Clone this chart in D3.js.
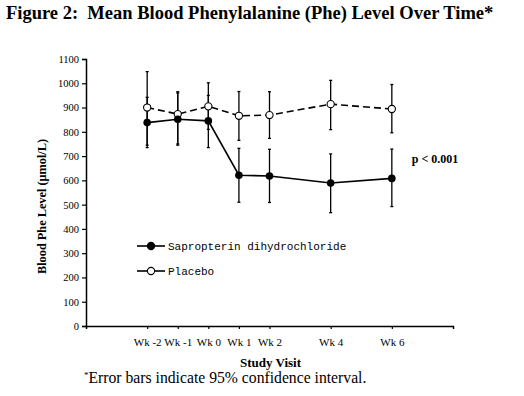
<!DOCTYPE html>
<html>
<head>
<meta charset="utf-8">
<script src="https://cdn.jsdelivr.net/npm/d3@7"></script>
<style>
  body { margin: 0; background: #fff; }
  svg text { fill: #000; white-space: pre; }
</style>
</head>
<body>
<svg id="chart" width="524" height="396"></svg>
<script>
// weeks of each study visit and their labels
var weeks = [-2, -1, 0, 1, 2, 4, 6];
var weekLabels = ["Wk -2", "Wk -1", "Wk 0", "Wk 1", "Wk 2", "Wk 4", "Wk 6"];
var yTicks = [0, 100, 200, 300, 400, 500, 600, 700, 800, 900, 1000, 1100];

// mean Phe (umol/L) and 95% CI bounds
var sapMean = [838, 852, 845, 621, 618, 589, 608];
var sapLow  = [735, 745, 735, 510, 509, 467, 492];
var sapHigh = [942, 960, 950, 732, 728, 709, 729];

var plaMean = [900, 873, 905, 866, 869, 914, 894];
var plaLow  = [745, 750, 810, 765, 773, 809, 796];
var plaHigh = [1048, 965, 1002, 966, 965, 1012, 995];

var svg = d3.select("#chart"),
    margin = {top: 59, right: 71, bottom: 70, left: 86},
    width = +svg.attr("width") - margin.left - margin.right,
    height = +svg.attr("height") - margin.top - margin.bottom,
    g = svg.append("g").attr("transform", "translate(" + margin.left + "," + margin.top + ")");

var x = d3.scaleLinear().domain([-4, 8]).range([0, width]);
var y = d3.scaleLinear().domain([0, 1100]).range([height, 0]);

// title
svg.append("text")
    .attr("x", 6)
    .attr("y", 19)
    .style("font", "bold 18.5px 'Liberation Serif', serif")
    .text("Figure 2:  Mean Blood Phenylalanine (Phe) Level Over Time*");

// axes
var xAxis = g.append("g")
    .attr("transform", "translate(0," + height + ")")
    .call(d3.axisBottom(x).tickValues(weeks).tickSize(3).tickPadding(9)
      .tickFormat(function(d, i) { return weekLabels[i]; }));
xAxis.selectAll("text").style("font", "11px 'Liberation Serif', serif");

var yAxis = g.append("g")
    .call(d3.axisLeft(y).tickValues(yTicks).tickSize(4).tickPadding(3).tickFormat(d3.format("d")));
yAxis.selectAll("text").style("font", "10.5px 'Liberation Serif', serif");

svg.selectAll(".domain").attr("stroke", "#000").attr("stroke-width", 1.5);
svg.selectAll(".tick line").attr("stroke", "#000").attr("stroke-width", 1.2);

// axis titles
g.append("text")
    .attr("transform", "rotate(-90)")
    .attr("x", -(y(550) + 14))
    .attr("y", -40)
    .attr("text-anchor", "middle")
    .style("font", "bold 12.3px 'Liberation Serif', serif")
    .text("Blood Phe Level (\u03bcmol/L)");

g.append("text")
    .attr("x", x(2) + 1)
    .attr("y", height + 41)
    .attr("text-anchor", "middle")
    .style("font", "bold 13px 'Liberation Serif', serif")
    .text("Study Visit");

// footnote
var note = svg.append("text")
    .attr("x", 84)
    .attr("y", 383)
    .style("font", "15.7px 'Liberation Serif', serif");
note.append("tspan")
    .attr("dy", -5)
    .style("font-size", "9px")
    .text("*");
note.append("tspan")
    .attr("dy", 5)
    .text("Error bars indicate 95% confidence interval.");

// error bars
function errorBars(cls, low, high) {
  var eb = g.append("g").attr("class", cls);
  eb.selectAll("line.bar")
      .data(weeks)
    .enter().append("line")
      .attr("x1", function(d) { return x(d); })
      .attr("x2", function(d) { return x(d); })
      .attr("y1", function(d, i) { return y(low[i]); })
      .attr("y2", function(d, i) { return y(high[i]); })
      .attr("stroke", "#000")
      .attr("stroke-width", 1.3);
  [low, high].forEach(function(arr) {
    eb.selectAll(null)
        .data(weeks)
      .enter().append("line")
        .attr("x1", function(d) { return x(d) - 1.5; })
        .attr("x2", function(d) { return x(d) + 1.5; })
        .attr("y1", function(d, i) { return y(arr[i]); })
        .attr("y2", function(d, i) { return y(arr[i]); })
        .attr("stroke", "#000")
        .attr("stroke-width", 1.3);
  });
}
errorBars("eb-pla", plaLow, plaHigh);
errorBars("eb-sap", sapLow, sapHigh);

var line = function(vals) {
  return d3.line()
    .x(function(d) { return x(d); })
    .y(function(d, i) { return y(vals[i]); })(weeks);
};

g.append("path")
    .attr("d", line(plaMean))
    .attr("fill", "none")
    .attr("stroke", "#000")
    .attr("stroke-width", 1.6)
    .attr("stroke-dasharray", "7,4");

g.append("path")
    .attr("d", line(sapMean))
    .attr("fill", "none")
    .attr("stroke", "#000")
    .attr("stroke-width", 1.6);

g.selectAll("circle.pla")
    .data(weeks)
  .enter().append("circle")
    .attr("cx", function(d) { return x(d); })
    .attr("cy", function(d, i) { return y(plaMean[i]); })
    .attr("r", 3.6)
    .attr("fill", "#fff")
    .attr("stroke", "#000")
    .attr("stroke-width", 1.1);

g.selectAll("circle.sap")
    .data(weeks)
  .enter().append("circle")
    .attr("cx", function(d) { return x(d); })
    .attr("cy", function(d, i) { return y(sapMean[i]); })
    .attr("r", 3.8)
    .attr("fill", "#000");

// p value
g.append("text")
    .attr("x", x(6) + 20)
    .attr("y", y(670))
    .style("font", "bold 12px 'Liberation Serif', serif")
    .text("p < 0.001");

// legend
var legend = svg.append("g").attr("transform", "translate(137,246)");
[["Sapropterin dihydrochloride", "#000"], ["Placebo", "#fff"]].forEach(function(d, i) {
  var row = legend.append("g").attr("transform", "translate(0," + (i * 25) + ")");
  row.append("line").attr("x1", 0).attr("x2", 28).attr("stroke", "#000").attr("stroke-width", 1.6);
  row.append("circle").attr("cx", 14).attr("r", 3.6).attr("fill", d[1]).attr("stroke", "#000").attr("stroke-width", 1.1);
  row.append("text")
      .attr("x", 31)
      .attr("y", 4)
      .style("font", "11px 'Liberation Mono', monospace")
      .text(d[0]);
});
</script>
</body>
</html>
